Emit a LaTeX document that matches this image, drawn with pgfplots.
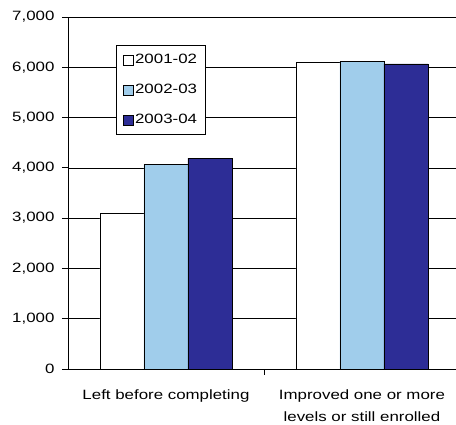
\documentclass[border=0pt]{standalone}
\usepackage{fontspec}
\setmainfont[FakeStretch=1.25]{Liberation Sans}
\usepackage{pgfplots}
\pgfplotsset{compat=1.18}
\definecolor{lb}{RGB}{160,205,235}
\definecolor{db}{RGB}{45,45,150}
\begin{document}
\begin{tikzpicture}[font=\fontsize{13.5}{22.5}\selectfont]
\begin{axis}[
  scale only axis, width=388pt, height=352pt,
  xmin=-0.5, xmax=1.48, ymin=0, ymax=7000,
  axis x line*=bottom, axis y line*=left,
  axis line style={-, black, line width=0.8pt},
  ybar=0pt, bar width=44pt,
  ytick={0,1000,...,7000},
  ymajorgrids, grid style={black, line width=0.7pt},
  tick align=outside, major tick length=6pt, minor tick length=6pt,
  tick style={black, line width=0.8pt},
  y tick label style={xshift=-4pt, /pgf/number format/.cd, 1000 sep={,}, assume math mode=true},
  xtick={0,1},
  xticklabels={Left before completing, {Improved one or more\\levels or still enrolled}},
  x tick label style={align=center, yshift=-11pt},
  major x tick style={draw=none},
  minor xtick={0.5},
  minor x tick style={draw=black, line width=0.8pt},
  legend style={at={(0.124,0.92)}, anchor=north west, draw=black, fill=white, line width=0.8pt,
    font=\fontsize{13.5}{16}\selectfont, row sep=15pt, inner xsep=6pt, inner ysep=7pt},
  legend cell align=left,
  legend image code/.code={\draw[#1, line width=0.6pt] (0pt,-5pt) rectangle (10pt,5pt);},
]
\addplot[fill=white, draw=black, line width=0.8pt] coordinates {(0,3100) (1,6105)};
\addplot[fill=lb, draw=black, line width=0.8pt] coordinates {(0,4070) (1,6115)};
\addplot[fill=db, draw=black, line width=0.8pt] coordinates {(0,4195) (1,6067)};
\legend{2001-02,2002-03,2003-04}
\end{axis}
\pgfresetboundingbox
\path ([xshift=-68pt,yshift=-56pt]current axis.south west) rectangle ([yshift=17pt]current axis.north east);
\end{tikzpicture}
\end{document}
